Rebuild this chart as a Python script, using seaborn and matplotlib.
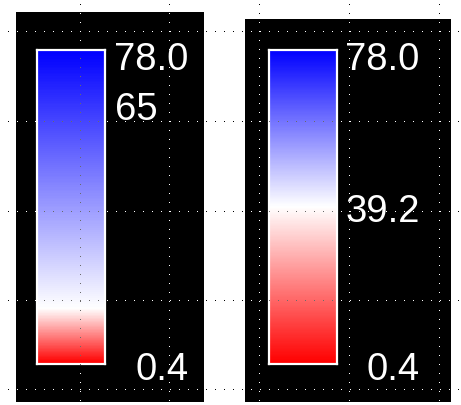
import numpy as np
import matplotlib
matplotlib.use("Agg")
import matplotlib.pyplot as plt
import matplotlib.colors as mcolors
import matplotlib.transforms as mtrans
from matplotlib.patches import Rectangle
import seaborn as sns

# ---- data ----
value_min = 0.4
value_max = 78.0
left_center = 14.0
right_center = 39.2
left_tick_values = [78.0, 65, 0.4]
left_tick_labels = ["78.0", "65", "0.4"]
right_tick_values = [78.0, 39.2, 0.4]
right_tick_labels = ["78.0", "39.2", "0.4"]

W, H = 461, 406
sns.set_style("white")
plt.rcParams["font.family"] = ["Liberation Sans", "DejaVu Sans"]

fig = plt.figure(figsize=(W / 100, H / 100), dpi=100)
fig.patch.set_facecolor("white")


def px_rect(x0, y0, x1, y1):
    return [x0 / W, 1 - y1 / H, (x1 - x0) / W, (y1 - y0) / H]


def panel(x0, y0, x1, y1):
    ax = fig.add_axes(px_rect(x0, y0, x1, y1))
    ax.set_facecolor("black")
    ax.set_xticks([])
    ax.set_yticks([])
    for s in ax.spines.values():
        s.set_visible(False)
    return ax


panel(16, 13, 204, 403)
panel(245, 20, 451, 403)

ramp_steps = 512


def colorbar(rect, center, values, labels, label_x, aligns, offsets):
    ax = fig.add_axes(px_rect(*rect))
    ramp = np.linspace(value_max, value_min, ramp_steps).reshape(-1, 1)
    norm = mcolors.TwoSlopeNorm(vcenter=center, vmin=value_min, vmax=value_max)
    sns.heatmap(ramp, ax=ax, cmap="bwr_r", norm=norm, cbar=False,
                xticklabels=False, yticklabels=False)
    for s in ax.spines.values():
        s.set_visible(True)
        s.set_color("white")
        s.set_linewidth(1.6)
    lab = ax.twinx()
    lab.set_ylim(value_min, value_max)
    lab.axis("off")
    trans = mtrans.blended_transform_factory(fig.transFigure, lab.transData)
    for v, t, ha, lx, off in zip(values, labels, aligns, label_x, offsets):
        lab.text(lx / W, v, t, ha=ha, va="baseline", color="white",
                 fontsize=27.5,
                 transform=trans + mtrans.ScaledTranslation(0, -off / 100, fig.dpi_scale_trans))


colorbar((36.5, 51, 105, 364.5), left_center, left_tick_values, left_tick_labels,
         [188.5, 114.5, 188.5], ["right", "left", "right"], [19, 16.5, 15.5])
colorbar((268.5, 51, 337, 364.5), right_center, right_tick_values, right_tick_labels,
         [419.5, 419.5, 419.5], ["right", "right", "right"], [19, 14, 15.5])

# ---- dotted guide grid overlay (single-pixel dots every 9 px) ----
ov = fig.add_axes([0, 0, 1, 1], zorder=10)
ov.set_xlim(0, W)
ov.set_ylim(H, 0)
ov.axis("off")
grid_x = [79, 168, 258, 348, 438]
grid_y = [32, 122, 212, 301, 390]
dot_step = 9


def draw_grid(color):
    arts = []
    ys = np.arange(5, H, dot_step) + 0.5
    xs = np.arange(7, W, dot_step) + 0.5
    for gx in grid_x:
        ln, = ov.plot(np.full(len(ys), gx + 0.5), ys, linestyle="none",
                      marker=",", color=color)
        arts.append(ln)
    for gy in grid_y:
        ln, = ov.plot(xs, np.full(len(xs), gy + 0.5), linestyle="none",
                      marker=",", color=color)
        arts.append(ln)
    return arts


draw_grid("black")


def clipped_grid(color, rects):
    for (x0, y0, x1, y1) in rects:
        clip = Rectangle((x0, y0), x1 - x0, y1 - y0, transform=ov.transData)
        for ln in draw_grid(color):
            ln.set_clip_path(clip)


clipped_grid("white", [(16, 13, 204, 403), (245, 20, 451, 403)])
clipped_grid("#6a6a6a", [(37, 51, 105, 364.5), (269, 51, 337, 364.5)])

fig.savefig("out.png", dpi=100, facecolor="white")
